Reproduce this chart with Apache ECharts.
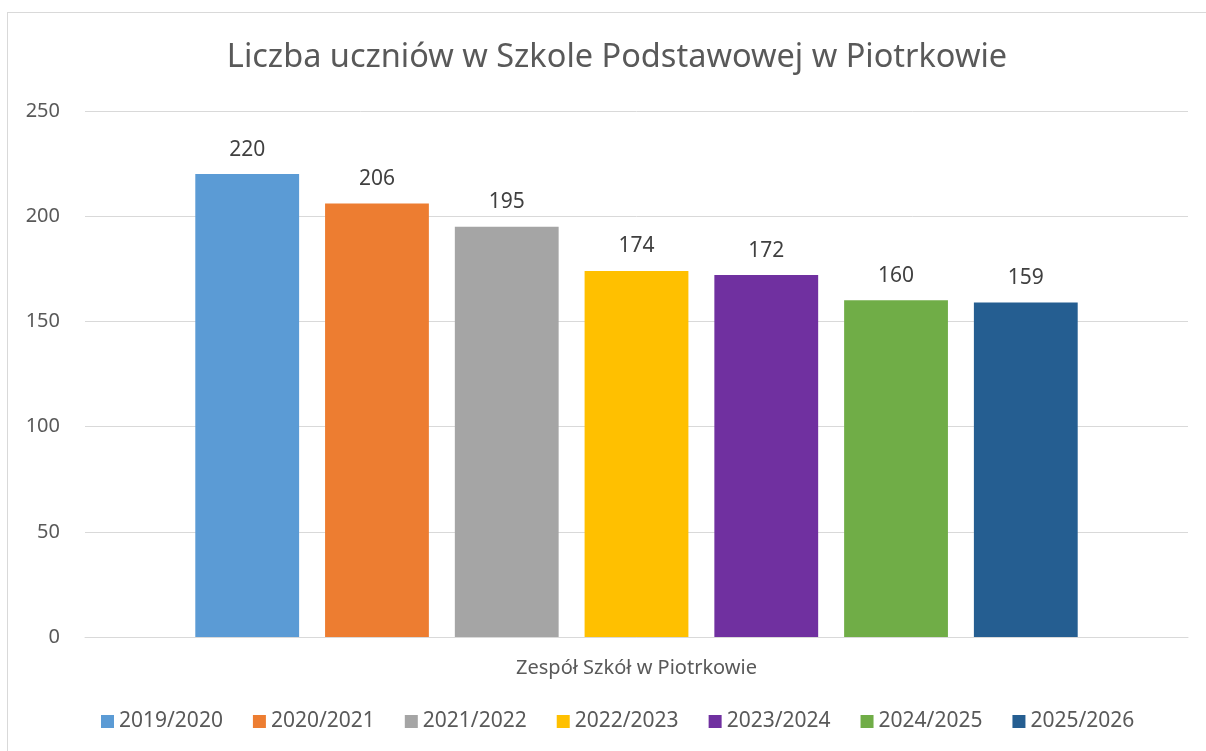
<!DOCTYPE html>
<html>
<head>
<meta charset="utf-8">
<script src="https://cdn.jsdelivr.net/npm/echarts@6/dist/echarts.min.js"></script>
<style>
  html, body { margin: 0; padding: 0; background: #fff; }
  #frame { position: absolute; left: 7px; top: 12px; width: 1210px; height: 750px; border: 1px solid #d9d9d9; box-sizing: border-box; }
  #main { position: absolute; left: 0; top: 0; width: 1206px; height: 751px; }
</style>
</head>
<body>
<div id="frame"></div>
<div id="main"></div>
<script>
// dane wykresu
var category = ["Zespół Szkół w Piotrkowie"];
var years = ["2019/2020", "2020/2021", "2021/2022", "2022/2023", "2023/2024", "2024/2025", "2025/2026"];
var counts = [220, 206, 195, 174, 172, 160, 159];
var colors = ["#5B9BD5", "#ED7D31", "#A5A5A5", "#FFC000", "#7030A0", "#70AD47", "#255E91"];
var yTicks = [0, 50, 100, 150, 200, 250];

var font = "Noto Sans";
var myChart = echarts.init(document.getElementById("main"));

var series = years.map(function (y, i) {
  return {
    name: y,
    type: "bar",
    barGap: "25%",
    barCategoryGap: "20%",
    itemStyle: { color: colors[i] },
    label: {
      show: true,
      position: "top",
      distance: 14,
      color: "#404040",
      fontFamily: font,
      fontSize: 21
    },
    data: [counts[i]]
  };
});

myChart.setOption({
  animation: false,
  title: {
    text: "Liczba uczniów w Szkole Podstawowej w Piotrkowie",
    left: 612,
    textAlign: "center",
    top: 36,
    textStyle: { color: "#595959", fontFamily: font, fontSize: 32.5, fontWeight: "normal" }
  },
  legend: {
    bottom: 14,
    left: 96,
    itemWidth: 13,
    itemHeight: 13,
    itemGap: 30,
    icon: "rect",
    textStyle: { color: "#595959", fontFamily: font, fontSize: 21 }
  },
  grid: { left: 85, right: 18, top: 111, bottom: 114 },
  xAxis: {
    type: "category",
    data: category,
    axisLine: { lineStyle: { color: "#d9d9d9", width: 1 } },
    axisTick: { show: false },
    axisLabel: { color: "#595959", fontFamily: font, fontSize: 20, margin: 21 }
  },
  yAxis: {
    type: "value",
    min: yTicks[0],
    max: yTicks[yTicks.length - 1],
    interval: 50,
    axisLine: { show: false },
    axisTick: { show: false },
    splitLine: { lineStyle: { color: "#d9d9d9", width: 1 } },
    axisLabel: { color: "#595959", fontFamily: font, fontSize: 20, margin: 25 }
  },
  series: series
});
</script>
</body>
</html>
